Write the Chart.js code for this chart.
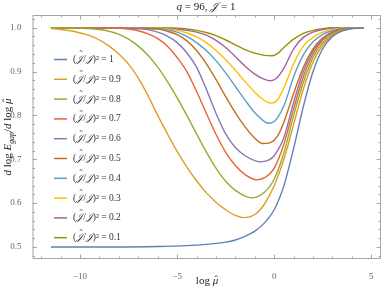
<!DOCTYPE html>
<html>
<head>
<meta charset="utf-8">
<script src="https://cdn.jsdelivr.net/npm/chart.js@4.4.1/dist/chart.umd.min.js"></script>
<style>
  html, body { margin: 0; padding: 0; background: #fff; }
  #c { display: block; }
</style>
</head>
<body>
<canvas id="c" width="382" height="292"></canvas>
<script>
// ---------- data: [log mu, dlogE/dlogmu] ----------
const ratioLabels = ['1', '0.9', '0.8', '0.7', '0.6', '0.5', '0.4', '0.3', '0.2', '0.1'];

const curve10 = [[-11.5, 0.5], [-8, 0.5], [-6, 0.501], [-4.5, 0.503], [-3.5, 0.506], [-2.5, 0.511], [-2, 0.516],
  [-1.5, 0.524], [-1, 0.536], [-0.5, 0.555], [0, 0.585], [0.5, 0.64], [1, 0.725], [1.5, 0.82], [2, 0.9],
  [2.5, 0.952], [3, 0.98], [3.5, 0.993], [4, 0.998], [4.6, 1.0]];
const curve09 = [[-11.5, 0.998], [-11, 0.996], [-10.5, 0.993], [-10, 0.988], [-9.5, 0.982], [-9, 0.972],
  [-8.5, 0.958], [-8, 0.94], [-7.5, 0.917], [-7, 0.885], [-6.5, 0.845], [-6, 0.8], [-5.5, 0.758], [-5, 0.718],
  [-4.5, 0.682], [-4, 0.651], [-3.5, 0.624], [-3, 0.602], [-2.5, 0.585], [-2, 0.572], [-1.6, 0.567],
  [-1, 0.574], [-0.5, 0.598], [0, 0.64], [0.5, 0.7], [1, 0.78], [1.5, 0.86], [2, 0.922], [2.5, 0.96],
  [3, 0.982], [3.5, 0.993], [4, 0.998], [4.6, 1.0]];
const curve08 = [[-11.5, 1.0], [-10, 0.999], [-9, 0.996], [-8.5, 0.992], [-8, 0.985], [-7.5, 0.974], [-7, 0.958],
  [-6.5, 0.937], [-6, 0.91], [-5.5, 0.877], [-5, 0.84], [-4.5, 0.8], [-4, 0.758], [-3.5, 0.717], [-3, 0.68],
  [-2.5, 0.65], [-2, 0.629], [-1.5, 0.616], [-1.2, 0.612], [-0.5, 0.625], [0, 0.655], [0.5, 0.715], [1, 0.8],
  [1.5, 0.875], [2, 0.932], [2.5, 0.966], [3, 0.985], [3.5, 0.995], [4, 0.999], [4.6, 1.0]];
const curve07 = [[-11.5, 1.0], [-8, 0.999], [-7.5, 0.997], [-7, 0.993], [-6.5, 0.986], [-6, 0.975], [-5.5, 0.958],
  [-5, 0.932], [-4.5, 0.9], [-4, 0.855], [-3.5, 0.805], [-3, 0.757], [-2.5, 0.716], [-2, 0.686], [-1.5, 0.665],
  [-0.9, 0.653], [-0.5, 0.658], [0, 0.68], [0.5, 0.735], [1, 0.815], [1.5, 0.888], [2, 0.94], [2.5, 0.972],
  [3, 0.988], [3.5, 0.996], [4, 0.999], [4.6, 1.0]];
const curve06 = [[-11.5, 1.0], [-7, 0.998], [-6, 0.99], [-5.5, 0.981], [-5, 0.966], [-4.5, 0.943], [-4, 0.91],
  [-3.5, 0.86], [-3, 0.805], [-2.5, 0.758], [-2, 0.727], [-1.5, 0.708], [-1, 0.697], [-0.7, 0.694],
  [-0.3, 0.698], [0, 0.708], [0.5, 0.75], [1, 0.83], [1.5, 0.9], [2, 0.947], [2.5, 0.975], [3, 0.99],
  [3.5, 0.997], [4, 0.999], [4.6, 1.0]];
const curve05 = [[-11.5, 1.0], [-6, 0.997], [-5.5, 0.992], [-5, 0.984], [-4.5, 0.97], [-4, 0.948], [-3.5, 0.918],
  [-3, 0.882], [-2.5, 0.843], [-2, 0.806], [-1.5, 0.774], [-1, 0.748], [-0.6, 0.736], [-0.2, 0.738],
  [0.2, 0.755], [0.5, 0.785], [1, 0.85], [1.5, 0.91], [2, 0.952], [2.5, 0.977], [3, 0.99], [3.5, 0.997],
  [4, 0.999], [4.6, 1.0]];
const curve04 = [[-11.5, 1.0], [-6, 0.998], [-5, 0.99], [-4.5, 0.98], [-4, 0.966], [-3.5, 0.948], [-3, 0.925],
  [-2.5, 0.897], [-2, 0.866], [-1.5, 0.835], [-1, 0.806], [-0.5, 0.786], [-0.3, 0.782], [0, 0.786],
  [0.5, 0.822], [1, 0.888], [1.5, 0.938], [2, 0.968], [2.5, 0.985], [3, 0.993], [3.5, 0.998], [4.6, 1.0]];
const curve03 = [[-11.5, 1.0], [-6, 0.999], [-5, 0.994], [-4.5, 0.988], [-4, 0.979], [-3.5, 0.966], [-3, 0.948],
  [-2.5, 0.927], [-2, 0.903], [-1.5, 0.877], [-1, 0.853], [-0.5, 0.834], [-0.2, 0.828], [0.1, 0.832],
  [0.5, 0.863], [1, 0.918], [1.5, 0.958], [2, 0.978], [2.5, 0.99], [3, 0.996], [3.5, 0.999], [4.6, 1.0]];
const curve02 = [[-11.5, 1.0], [-6, 0.999], [-5, 0.997], [-4.5, 0.994], [-4, 0.99], [-3.5, 0.983], [-3, 0.971],
  [-2.5, 0.955], [-2, 0.934], [-1.5, 0.912], [-1, 0.894], [-0.5, 0.882], [-0.2, 0.879], [0.1, 0.884],
  [0.5, 0.908], [1, 0.952], [1.5, 0.978], [2, 0.99], [2.5, 0.996], [3, 0.999], [4.6, 1.0]];
const curve01 = [[-11.5, 1.0], [-6, 1.0], [-5, 0.999], [-4.5, 0.997], [-4, 0.994], [-3.5, 0.989], [-3, 0.982],
  [-2.5, 0.972], [-2, 0.961], [-1.5, 0.95], [-1, 0.942], [-0.5, 0.937], [-0.1, 0.936], [0.2, 0.942],
  [0.5, 0.955], [1, 0.974], [1.5, 0.987], [2, 0.994], [2.5, 0.998], [3, 1.0], [4.6, 1.0]];

const curves = [curve10, curve09, curve08, curve07, curve06, curve05, curve04, curve03, curve02, curve01];

const xTicks = [-10, -5, 0, 5];
const yTicks = [0.5, 0.6, 0.7, 0.8, 0.9, 1.0];

// Mathematica's default palette
const colors = ['#5e81b5', '#e19c24', '#8fb032', '#eb6235', '#8778b3',
  '#c56e1a', '#5d9ec7', '#ffbf00', '#a5609d', '#929600'];

const SERIF = '"Liberation Serif", "DejaVu Serif", serif';
const SCRIPT_J = '\u{1D4A5}';

// ---------- small rich-text helper (italic / subscript / accented pieces) ----------
function fontFor(style, size) {
  if (style === 'sub') return 'italic ' + (size * 0.72).toFixed(1) + 'px ' + SERIF;
  if (style === 'r') return size + 'px ' + SERIF;
  return 'italic ' + size + 'px ' + SERIF;
}
function drawRich(ctx, parts, x, y, size, align) {
  let total = 0;
  parts.forEach(([t, s]) => { ctx.font = fontFor(s, size); total += ctx.measureText(t).width; });
  let cx = align === 'left' ? x : x - total / 2;
  ctx.textBaseline = 'middle';
  parts.forEach(([t, s]) => {
    ctx.font = fontFor(s, size);
    ctx.textAlign = 'left';
    const w = ctx.measureText(t).width;
    ctx.fillText(t, cx, s === 'sub' ? y + size * 0.28 : y);
    if (s === 'hat' || s === 'tilde') {
      ctx.font = size + 'px ' + SERIF;
      ctx.textAlign = 'center';
      const acc = s === 'hat' ? '\u02c6' : '\u02dc';
      const dy = s === 'hat' ? -size * 0.12 : -size * 0.38;
      ctx.fillText(acc, cx + w * (s === 'hat' ? 0.62 : 0.72), y + dy);
    }
    cx += w;
  });
}

// ---------- frame, inward ticks, titles and legend ----------
const framePlugin = {
  id: 'frame',
  afterDraw(chart) {
    const { ctx, chartArea: a, scales: { x, y } } = chart;
    ctx.save();
    ctx.strokeStyle = '#a6a6a6';
    ctx.lineWidth = 1;
    ctx.strokeRect(a.left + 0.5, a.top + 0.5, a.right - a.left - 1, a.bottom - a.top - 1);

    ctx.beginPath();
    for (let v = -12; v <= 5; v += 1) {
      const px = Math.round(x.getPixelForValue(v)) + 0.5;
      const len = v % 5 === 0 ? 4.5 : 2.5;
      ctx.moveTo(px, a.bottom); ctx.lineTo(px, a.bottom - len);
      ctx.moveTo(px, a.top); ctx.lineTo(px, a.top + len);
    }
    for (let k = 24; k <= 51; k++) {
      const py = Math.round(y.getPixelForValue(k / 50)) + 0.5;
      const len = k % 5 === 0 ? 4.5 : 2.5;
      ctx.moveTo(a.left, py); ctx.lineTo(a.left + len, py);
      ctx.moveTo(a.right, py); ctx.lineTo(a.right - len, py);
    }
    ctx.stroke();

    ctx.fillStyle = '#222';
    drawRich(ctx, [['q', 'i'], [' = 96, ', 'r'], [SCRIPT_J, 'i'], [' = 1', 'r']], 206, 7.5, 11);
    drawRich(ctx, [['log ', 'r'], ['\u03bc', 'hat']], 207, 281, 11);

    ctx.save();
    ctx.translate(8.5, 137);
    ctx.rotate(-Math.PI / 2);
    drawRich(ctx, [['d', 'i'], [' log ', 'r'], ['E', 'i'], ['gap', 'sub'], ['/', 'r'],
      ['d', 'i'], [' log ', 'r'], ['\u03bc', 'hat']], 0, 0, 11);
    ctx.restore();

    chart.data.datasets.forEach((ds, i) => {
      const ly = 59.5 + i * 19.8;
      ctx.strokeStyle = ds.borderColor;
      ctx.lineWidth = 1.5;
      ctx.beginPath();
      ctx.moveTo(54, ly); ctx.lineTo(67, ly);
      ctx.stroke();
      ctx.fillStyle = '#333';
      drawRich(ctx, [['(', 'r'], [SCRIPT_J, 'tilde'], ['/', 'r'], [SCRIPT_J, 'i'],
        [')\u00b2 = ' + ratioLabels[i], 'r']], 73, ly, 9.5, 'left');
    });
    ctx.restore();
  },
};

const tickFont = { family: SERIF, size: 9 };

new Chart(document.getElementById('c'), {
  type: 'scatter',
  data: {
    datasets: curves.map((pts, i) => ({
      label: ratioLabels[i],
      data: pts.map(([a, b]) => ({ x: a, y: b })),
      showLine: true,
      borderColor: colors[i],
      borderWidth: 1.4,
      pointRadius: 0,
      cubicInterpolationMode: 'monotone',
      fill: false,
    })),
  },
  options: {
    responsive: false,
    animation: false,
    layout: { padding: { top: 15, right: 1, left: 0, bottom: 0 } },
    plugins: { legend: { display: false }, tooltip: { enabled: false } },
    scales: {
      x: {
        type: 'linear',
        min: -12.45,
        max: 5.5,
        afterBuildTicks: (s) => { s.ticks = xTicks.map((v) => ({ value: v })); },
        afterFit: (s) => { s.height = 33; },
        ticks: {
          color: '#666',
          font: tickFont,
          padding: 4,
          maxRotation: 0,
          callback: (v) => (v < 0 ? '\u2212' + Math.abs(v) : String(v)),
        },
        grid: { display: false },
        border: { display: false },
      },
      y: {
        type: 'linear',
        min: 0.4726,
        max: 1.029,
        afterBuildTicks: (s) => { s.ticks = yTicks.map((v) => ({ value: v })); },
        afterFit: (s) => { s.width = 32.5; },
        ticks: {
          color: '#666',
          font: tickFont,
          padding: 3,
          callback: (v) => v.toFixed(1),
        },
        grid: { display: false },
        border: { display: false },
      },
    },
  },
  plugins: [framePlugin],
});
</script>
</body>
</html>
